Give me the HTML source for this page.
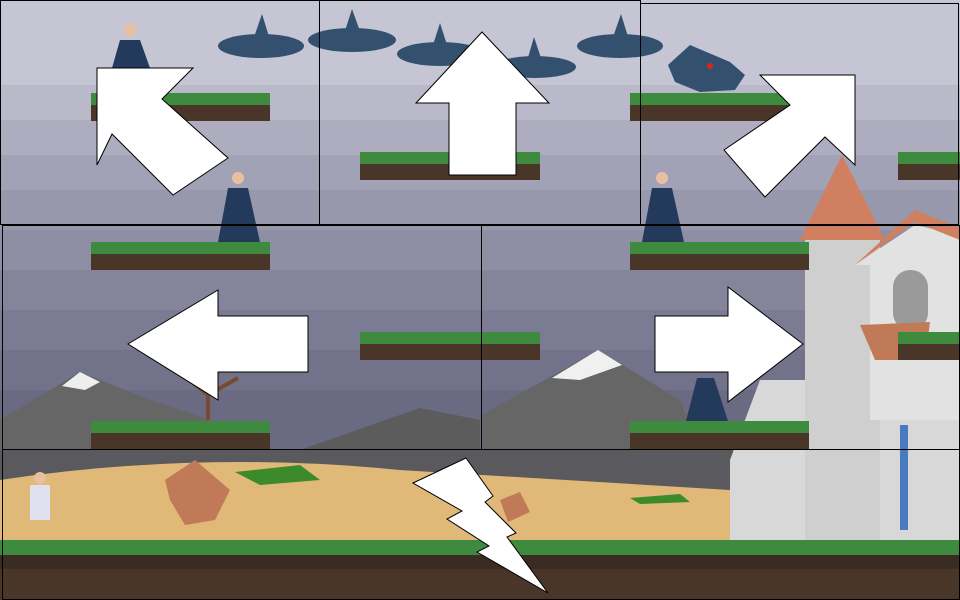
<!DOCTYPE html>
<html><head><meta charset="utf-8"><style>
html,body{margin:0;padding:0;width:960px;height:600px;overflow:hidden;background:#b0b0c4}
svg{display:block}
</style></head><body>
<svg width="960" height="600" viewBox="0 0 960 600">
<g>
<rect x="0" y="0" width="960" height="85" fill="#c5c5d3"/>
<rect x="0" y="85" width="960" height="35" fill="#b9b9c9"/>
<rect x="0" y="120" width="960" height="35" fill="#adadbf"/>
<rect x="0" y="155" width="960" height="35" fill="#a2a2b6"/>
<rect x="0" y="190" width="960" height="40" fill="#9898ad"/>
<rect x="0" y="230" width="960" height="40" fill="#8e8ea4"/>
<rect x="0" y="270" width="960" height="40" fill="#84849b"/>
<rect x="0" y="310" width="960" height="40" fill="#7b7b93"/>
<rect x="0" y="350" width="960" height="40" fill="#72728a"/>
<rect x="0" y="390" width="960" height="60" fill="#6a6a82"/>
</g>
<g>
<polygon points="0,420 80,372 150,400 210,420 260,450 0,450" fill="#666"/>
<polygon points="62,386 80,372 100,382 85,390" fill="#eee"/>
<polygon points="300,450 420,408 480,420 480,450" fill="#5c5c5c"/>
<polygon points="482,415 598,350 680,400 700,450 482,450" fill="#666"/>
<polygon points="552,378 598,350 622,365 580,380" fill="#f0f0f0"/>
<path d="M208,420 L208,395 L180,372 M208,395 L238,378" stroke="#7a4a30" stroke-width="4" fill="none"/>
</g>
<g>
<rect x="0" y="450" width="960" height="95" fill="#5a5a5e"/>
<path d="M0,480 Q200,450 400,470 L730,490 L730,545 L0,545 Z" fill="#e0b878"/>
<polygon points="165,480 195,460 230,490 215,520 185,525 170,500" fill="#c07a58"/>
<polygon points="500,500 520,492 530,512 508,522" fill="#c07a58"/>
<polygon points="235,472 300,465 320,480 260,485" fill="#3c8a2c"/>
<polygon points="630,498 680,494 690,502 640,504" fill="#3c8a2c"/>
</g>
<g>
<polygon points="730,460 760,380 880,380 920,420 960,420 960,545 730,545" fill="#d8d8d8"/>
<rect x="805" y="240" width="75" height="300" fill="#cfcfcf"/>
<polygon points="800,240 842,155 885,240" fill="#d08060"/>
<polygon points="855,265 915,225 960,235 960,420 870,420 870,265" fill="#e2e2e2"/>
<polygon points="855,265 915,222 960,240 960,228 915,210" fill="#d08060"/>
<rect x="893" y="270" width="35" height="60" rx="17" fill="#9a9a9a"/>
<rect x="900" y="425" width="8" height="105" fill="#4a7ac0"/>
<polygon points="860,325 930,322 925,360 875,360" fill="#c07a58"/>
</g>
<g>
<rect x="0" y="540" width="960" height="25" fill="#3e8a3e"/>
<rect x="0" y="555" width="960" height="14" fill="#3a2c22"/>
<rect x="0" y="569" width="960" height="31" fill="#4a3628"/>
</g>
<g>
<g fill="#3e8a3e">
<rect x="91" y="93" width="179" height="12"/><rect x="360" y="152" width="180" height="12"/>
<rect x="630" y="93" width="180" height="12"/><rect x="898" y="152" width="62" height="12"/>
<rect x="91" y="242" width="179" height="12"/><rect x="630" y="242" width="179" height="12"/>
<rect x="360" y="332" width="180" height="12"/><rect x="898" y="332" width="62" height="12"/>
<rect x="91" y="421" width="179" height="12"/><rect x="630" y="421" width="179" height="12"/>
</g>
<g fill="#4a3628">
<rect x="91" y="105" width="179" height="16"/><rect x="360" y="164" width="180" height="16"/>
<rect x="630" y="105" width="180" height="16"/><rect x="898" y="164" width="62" height="16"/>
<rect x="91" y="254" width="179" height="16"/><rect x="630" y="254" width="179" height="16"/>
<rect x="360" y="344" width="180" height="16"/><rect x="898" y="344" width="62" height="16"/>
<rect x="91" y="433" width="179" height="16"/><rect x="630" y="433" width="179" height="16"/>
</g>
</g>
<g fill="#33506f">
<ellipse cx="261" cy="46" rx="43" ry="12"/><polygon points="253,40 262,14 270,40"/>
<ellipse cx="352" cy="40" rx="44" ry="12"/><polygon points="344,34 352,9 361,34"/>
<ellipse cx="440" cy="54" rx="43" ry="12"/><polygon points="432,48 440,23 448,48"/>
<ellipse cx="535" cy="67" rx="41" ry="11"/><polygon points="527,61 534,37 542,61"/>
<ellipse cx="620" cy="46" rx="43" ry="12"/><polygon points="612,40 621,14 629,40"/>
</g>
<g>
<polygon points="668,65 690,45 730,62 745,75 735,90 700,92 675,82" fill="#33506f"/>
<circle cx="710" cy="66" r="3" fill="#d22"/>
</g>
<g fill="#243a5c">
<polygon points="120,40 140,40 150,68 112,68"/><circle cx="130" cy="30" r="6" fill="#e8c0a0"/>
<polygon points="228,188 248,188 260,242 218,242"/><circle cx="238" cy="178" r="6" fill="#e8c0a0"/>
<polygon points="652,188 672,188 684,242 642,242"/><circle cx="662" cy="178" r="6" fill="#e8c0a0"/>
<polygon points="697,378 714,378 728,421 686,421"/>
<rect x="30" y="485" width="20" height="35" fill="#e0e0f0"/><circle cx="40" cy="478" r="6" fill="#e8c0a0"/>
</g>
<g fill="none" stroke="#000" stroke-width="1">
<rect x="0.5" y="0.5" width="319" height="224"/>
<rect x="319.5" y="0.5" width="321" height="224"/>
<rect x="640.5" y="3.5" width="318" height="221"/>
<rect x="2.5" y="225.5" width="479" height="224"/>
<rect x="481.5" y="225.5" width="478" height="224"/>
<rect x="2.5" y="449.5" width="957" height="150"/>
</g>
<g fill="#fff" stroke="#000" stroke-width="1">
<polygon points="97,68 193,68 162,99 228,158 173,195 112,134 97,165"/>
<polygon points="482,32 549,103 516,103 516,175 449,175 449,103 416,103"/>
<polygon points="855,75 760,75 790,105 724,150 765,197 825,137 855,165"/>
<polygon points="128,344 218,290 218,316 308,316 308,372 218,372 218,400"/>
<polygon points="803,344 728,287 728,316 655,316 655,372 728,372 728,402"/>
<polygon points="413,483 466,458 493,496 485,502 516,533 507,537 548,593 477,552 489,546 447,519 462,511"/>
</g>
</svg>
</body></html>
